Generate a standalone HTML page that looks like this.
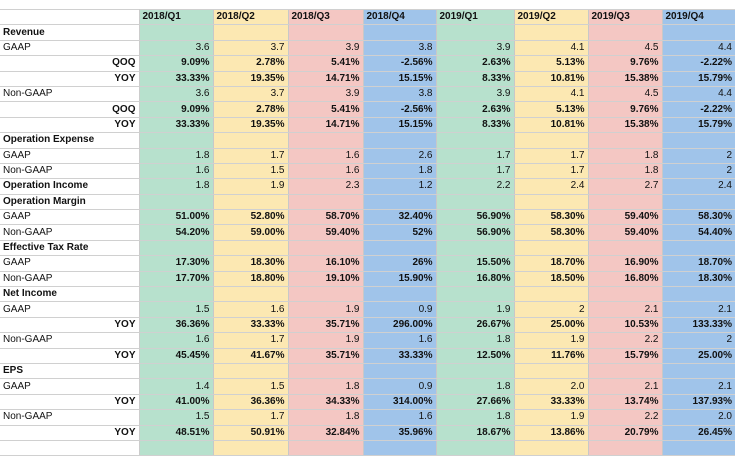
<!DOCTYPE html>
<html><head><meta charset="utf-8"><style>
html,body{margin:0;padding:0;background:#fff;width:740px;height:444px;overflow:hidden}
table{position:absolute;left:0;top:9px;border-collapse:collapse;table-layout:fixed;font-family:"Liberation Sans",Arial,sans-serif;font-size:10px;color:#111}
td{height:14.4px;padding:0 3px;border-top:1px solid #d0d0d0;border-bottom:1px solid #d0d0d0;white-space:nowrap;overflow:hidden;text-align:right;line-height:14px}
td:nth-child(1){text-align:left;background:#fff;border-right:1px solid #ccc}
td:nth-child(2),td:nth-child(6){background:#b7e1cd}
td:nth-child(3),td:nth-child(7){background:#fce8b2}
td:nth-child(4),td:nth-child(8){background:#f4c7c3}
td:nth-child(5),td:nth-child(9){background:#a0c4ea}
td:nth-child(n+2){border-left:1px solid #c8c8c8}
tr.h td{text-align:left;font-weight:bold}
tr.b td{font-weight:bold}
tr.s td:first-child{font-weight:bold}
</style></head><body>
<table>
<colgroup><col style="width:139px"><col style="width:74px"><col style="width:75px"><col style="width:75px"><col style="width:73px"><col style="width:78px"><col style="width:74px"><col style="width:74px"><col style="width:73px"></colgroup>
<tr class="h"><td></td><td>2018/Q1</td><td>2018/Q2</td><td>2018/Q3</td><td>2018/Q4</td><td>2019/Q1</td><td>2019/Q2</td><td>2019/Q3</td><td>2019/Q4</td></tr>
<tr class="s"><td>Revenue</td><td></td><td></td><td></td><td></td><td></td><td></td><td></td><td></td></tr>
<tr><td>GAAP</td><td>3.6</td><td>3.7</td><td>3.9</td><td>3.8</td><td>3.9</td><td>4.1</td><td>4.5</td><td>4.4</td></tr>
<tr class="b"><td style="text-align:right">QOQ</td><td>9.09%</td><td>2.78%</td><td>5.41%</td><td>-2.56%</td><td>2.63%</td><td>5.13%</td><td>9.76%</td><td>-2.22%</td></tr>
<tr class="b"><td style="text-align:right">YOY</td><td>33.33%</td><td>19.35%</td><td>14.71%</td><td>15.15%</td><td>8.33%</td><td>10.81%</td><td>15.38%</td><td>15.79%</td></tr>
<tr><td>Non-GAAP</td><td>3.6</td><td>3.7</td><td>3.9</td><td>3.8</td><td>3.9</td><td>4.1</td><td>4.5</td><td>4.4</td></tr>
<tr class="b"><td style="text-align:right">QOQ</td><td>9.09%</td><td>2.78%</td><td>5.41%</td><td>-2.56%</td><td>2.63%</td><td>5.13%</td><td>9.76%</td><td>-2.22%</td></tr>
<tr class="b"><td style="text-align:right">YOY</td><td>33.33%</td><td>19.35%</td><td>14.71%</td><td>15.15%</td><td>8.33%</td><td>10.81%</td><td>15.38%</td><td>15.79%</td></tr>
<tr class="s"><td>Operation Expense</td><td></td><td></td><td></td><td></td><td></td><td></td><td></td><td></td></tr>
<tr><td>GAAP</td><td>1.8</td><td>1.7</td><td>1.6</td><td>2.6</td><td>1.7</td><td>1.7</td><td>1.8</td><td>2</td></tr>
<tr><td>Non-GAAP</td><td>1.6</td><td>1.5</td><td>1.6</td><td>1.8</td><td>1.7</td><td>1.7</td><td>1.8</td><td>2</td></tr>
<tr class="s"><td>Operation Income</td><td>1.8</td><td>1.9</td><td>2.3</td><td>1.2</td><td>2.2</td><td>2.4</td><td>2.7</td><td>2.4</td></tr>
<tr class="s"><td>Operation Margin</td><td></td><td></td><td></td><td></td><td></td><td></td><td></td><td></td></tr>
<tr class="b"><td style="font-weight:normal">GAAP</td><td>51.00%</td><td>52.80%</td><td>58.70%</td><td>32.40%</td><td>56.90%</td><td>58.30%</td><td>59.40%</td><td>58.30%</td></tr>
<tr class="b"><td style="font-weight:normal">Non-GAAP</td><td>54.20%</td><td>59.00%</td><td>59.40%</td><td>52%</td><td>56.90%</td><td>58.30%</td><td>59.40%</td><td>54.40%</td></tr>
<tr class="s"><td>Effective Tax Rate</td><td></td><td></td><td></td><td></td><td></td><td></td><td></td><td></td></tr>
<tr class="b"><td style="font-weight:normal">GAAP</td><td>17.30%</td><td>18.30%</td><td>16.10%</td><td>26%</td><td>15.50%</td><td>18.70%</td><td>16.90%</td><td>18.70%</td></tr>
<tr class="b"><td style="font-weight:normal">Non-GAAP</td><td>17.70%</td><td>18.80%</td><td>19.10%</td><td>15.90%</td><td>16.80%</td><td>18.50%</td><td>16.80%</td><td>18.30%</td></tr>
<tr class="s"><td>Net Income</td><td></td><td></td><td></td><td></td><td></td><td></td><td></td><td></td></tr>
<tr><td>GAAP</td><td>1.5</td><td>1.6</td><td>1.9</td><td>0.9</td><td>1.9</td><td>2</td><td>2.1</td><td>2.1</td></tr>
<tr class="b"><td style="text-align:right">YOY</td><td>36.36%</td><td>33.33%</td><td>35.71%</td><td>296.00%</td><td>26.67%</td><td>25.00%</td><td>10.53%</td><td>133.33%</td></tr>
<tr><td>Non-GAAP</td><td>1.6</td><td>1.7</td><td>1.9</td><td>1.6</td><td>1.8</td><td>1.9</td><td>2.2</td><td>2</td></tr>
<tr class="b"><td style="text-align:right">YOY</td><td>45.45%</td><td>41.67%</td><td>35.71%</td><td>33.33%</td><td>12.50%</td><td>11.76%</td><td>15.79%</td><td>25.00%</td></tr>
<tr class="s"><td>EPS</td><td></td><td></td><td></td><td></td><td></td><td></td><td></td><td></td></tr>
<tr><td>GAAP</td><td>1.4</td><td>1.5</td><td>1.8</td><td>0.9</td><td>1.8</td><td>2.0</td><td>2.1</td><td>2.1</td></tr>
<tr class="b"><td style="text-align:right">YOY</td><td>41.00%</td><td>36.36%</td><td>34.33%</td><td>314.00%</td><td>27.66%</td><td>33.33%</td><td>13.74%</td><td>137.93%</td></tr>
<tr><td>Non-GAAP</td><td>1.5</td><td>1.7</td><td>1.8</td><td>1.6</td><td>1.8</td><td>1.9</td><td>2.2</td><td>2.0</td></tr>
<tr class="b"><td style="text-align:right">YOY</td><td>48.51%</td><td>50.91%</td><td>32.84%</td><td>35.96%</td><td>18.67%</td><td>13.86%</td><td>20.79%</td><td>26.45%</td></tr>
<tr><td></td><td></td><td></td><td></td><td></td><td></td><td></td><td></td><td></td></tr>
</table>
</body></html>
